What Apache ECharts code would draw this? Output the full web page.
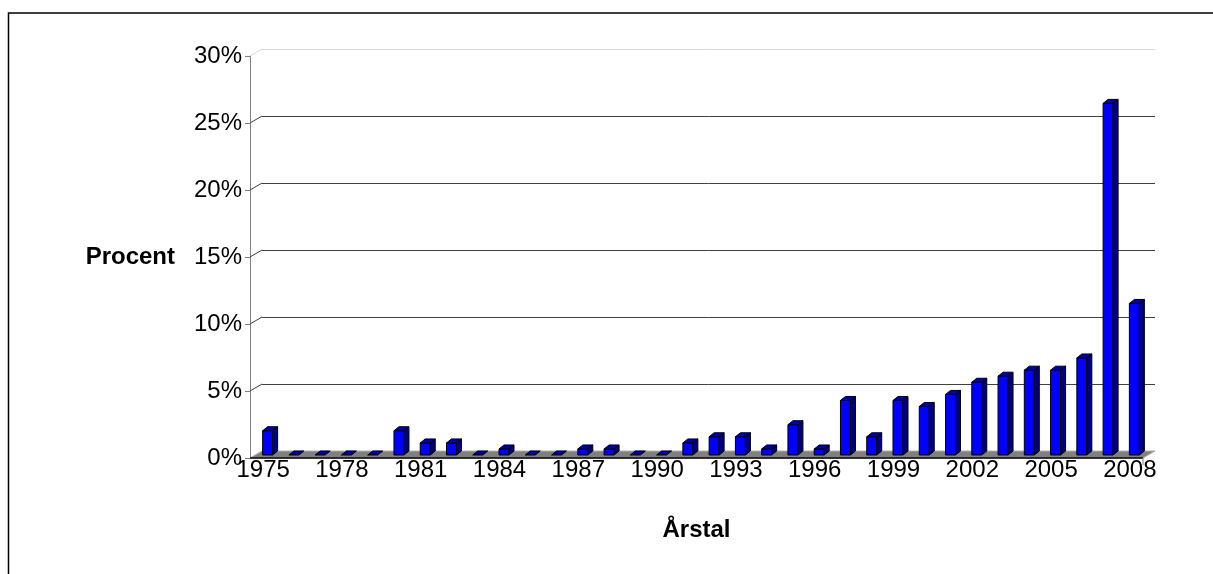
<!DOCTYPE html>
<html>
<head>
<meta charset="utf-8">
<title>Procent per årstal</title>
<script src="https://cdn.jsdelivr.net/npm/echarts@6/dist/echarts.min.js"></script>
<style>
  html, body { margin: 0; padding: 0; background: #fff; }
  #chart { width: 1213px; height: 574px; }
</style>
</head>
<body>
<div id="chart"></div>
<script>
// kategorier (år)
var years = ['1975', '1976', '1977', '1978', '1979', '1980', '1981', '1982', '1983', '1984',
  '1985', '1986', '1987', '1988', '1989', '1990', '1991', '1992', '1993', '1994',
  '1995', '1996', '1997', '1998', '1999', '2000', '2001', '2002', '2003', '2004',
  '2005', '2006', '2007', '2008'];
// andel i procent
var values = [1.81, 0, 0, 0, 0, 1.81, 0.90, 0.90, 0, 0.45,
  0, 0, 0.45, 0.45, 0, 0, 0.90, 1.36, 1.36, 0.45,
  2.26, 0.45, 4.07, 1.36, 4.07, 3.62, 4.52, 5.43, 5.88, 6.33,
  6.33, 7.24, 26.24, 11.31];
var yTicks = [0, 5, 10, 15, 20, 25, 30];

var FONT = '"Liberation Sans", Arial, sans-serif';
var DX = 12, DY = -7;      // djup för golv/bakvägg
var BW = 10, BDX = 5, BDY = -4; // stapelbredd och stapeldjup

var chart = echarts.init(document.getElementById('chart'));

// staplar i 3D-stil
function renderBar(params, api) {
  var i = api.value(0), v = api.value(1);
  var p0 = api.coord([i, 0]);
  var p1 = api.coord([i, v]);
  var x = p0[0] - 0.5;
  var yb = p0[1] - 3;
  var yt = p1[1] - 3;
  var line = {stroke: '#000', lineWidth: 1};
  var top = {
    type: 'polygon',
    shape: {points: [[x, yt], [x + BW, yt], [x + BW + BDX, yt + BDY], [x + BDX, yt + BDY]]},
    style: Object.assign({fill: '#0000a8'}, line)
  };
  if (v <= 0) {
    return {type: 'group', children: [top]};
  }
  return {
    type: 'group',
    children: [
      {
        type: 'rect',
        shape: {x: x, y: yt, width: BW, height: yb - yt},
        style: Object.assign({fill: '#0000ff'}, line)
      },
      {
        type: 'polygon',
        shape: {points: [[x + BW, yb], [x + BW, yt], [x + BW + BDX, yt + BDY], [x + BW + BDX, yb + BDY]]},
        style: Object.assign({fill: '#000080'}, line)
      },
      top
    ]
  };
}

// golv + x-axelns framkant
function renderFloor(params, api) {
  var cs = params.coordSys;
  var y0 = api.coord([0, 0])[1];
  var x0 = cs.x, x1 = cs.x + cs.width;
  return {
    type: 'group',
    children: [
      {
        type: 'polygon',
        shape: {points: [[x0, y0], [x1, y0], [x1 + DX, y0 + DY], [x0 + DX, y0 + DY]]},
        style: {fill: '#808080', stroke: '#b0b0b0', lineWidth: 1}
      },
      {type: 'line', shape: {x1: x0, y1: y0, x2: x1, y2: y0}, style: {stroke: '#000', lineWidth: 1.5}},
      {type: 'line', shape: {x1: x1, y1: y0, x2: x1, y2: y0 + 7}, style: {stroke: '#808080', lineWidth: 1}}
    ]
  };
}

// små diagonaler från y-axelns streck till bakväggen
function renderDiag(params, api) {
  var cs = params.coordSys;
  var v = api.value(1);
  var y = api.coord([0, v])[1];
  if (v === 0) return null;
  return {
    type: 'line',
    shape: {x1: cs.x, y1: y, x2: cs.x + DX, y2: y + DY},
    style: {stroke: v === 30 ? '#d8d8d8' : '#404040', lineWidth: 1}
  };
}

var option = {
  backgroundColor: '#fff',
  animation: false,
  graphic: [{
    type: 'rect',
    shape: {x: 8.5, y: 13, width: 1400, height: 800},
    style: {fill: 'none', stroke: '#000', lineWidth: 1.5},
    z: -1
  }],
  grid: [
    {left: 250, right: 70, top: 56, bottom: 116},
    {left: 262, right: 58, top: 49, bottom: 123}
  ],
  xAxis: [
    {
      type: 'category',
      gridIndex: 0,
      data: years,
      name: 'Årstal',
      nameLocation: 'middle',
      nameGap: 60,
      nameTextStyle: {fontFamily: FONT, fontSize: 24, fontWeight: 'bold', color: '#000'},
      axisLine: {show: false},
      axisTick: {show: false},
      axisLabel: {interval: 2, margin: 0, fontFamily: FONT, fontSize: 24, color: '#000'}
    },
    {type: 'value', gridIndex: 1, show: false, min: 0, max: 1}
  ],
  yAxis: [
    {
      type: 'value',
      gridIndex: 0,
      min: 0,
      max: 30,
      interval: 5,
      name: 'Procent',
      nameLocation: 'middle',
      nameRotate: 0,
      nameGap: 75,
      nameTextStyle: {fontFamily: FONT, fontSize: 24, fontWeight: 'bold', color: '#000'},
      axisLine: {show: true, lineStyle: {color: '#808080', width: 1}},
      axisTick: {show: true, length: 5, lineStyle: {color: '#808080'}},
      axisLabel: {formatter: '{value}%', margin: 8, fontFamily: FONT, fontSize: 24, color: '#000'},
      splitLine: {show: false}
    },
    {
      type: 'value',
      gridIndex: 1,
      min: 0,
      max: 30,
      interval: 5,
      axisLine: {show: false},
      axisTick: {show: false},
      axisLabel: {show: false},
      splitLine: {
        show: true,
        lineStyle: {color: ['#404040', '#404040', '#404040', '#404040', '#404040', '#404040', '#d8d8d8'], width: 1}
      }
    }
  ],
  series: [
    {
      type: 'custom',
      xAxisIndex: 0,
      yAxisIndex: 0,
      renderItem: renderFloor,
      data: [[0, 0]],
      z: 3,
      silent: true
    },
    {
      type: 'custom',
      xAxisIndex: 0,
      yAxisIndex: 0,
      renderItem: renderDiag,
      data: yTicks.map(function (t) { return [0, t]; }),
      z: 3,
      silent: true
    },
    {
      type: 'custom',
      xAxisIndex: 0,
      yAxisIndex: 0,
      renderItem: renderBar,
      data: values.map(function (v, i) { return [i, v]; }),
      z: 5
    }
  ]
};

chart.setOption(option);
window.addEventListener('resize', function () {
  chart.resize();
});
</script>
</body>
</html>
